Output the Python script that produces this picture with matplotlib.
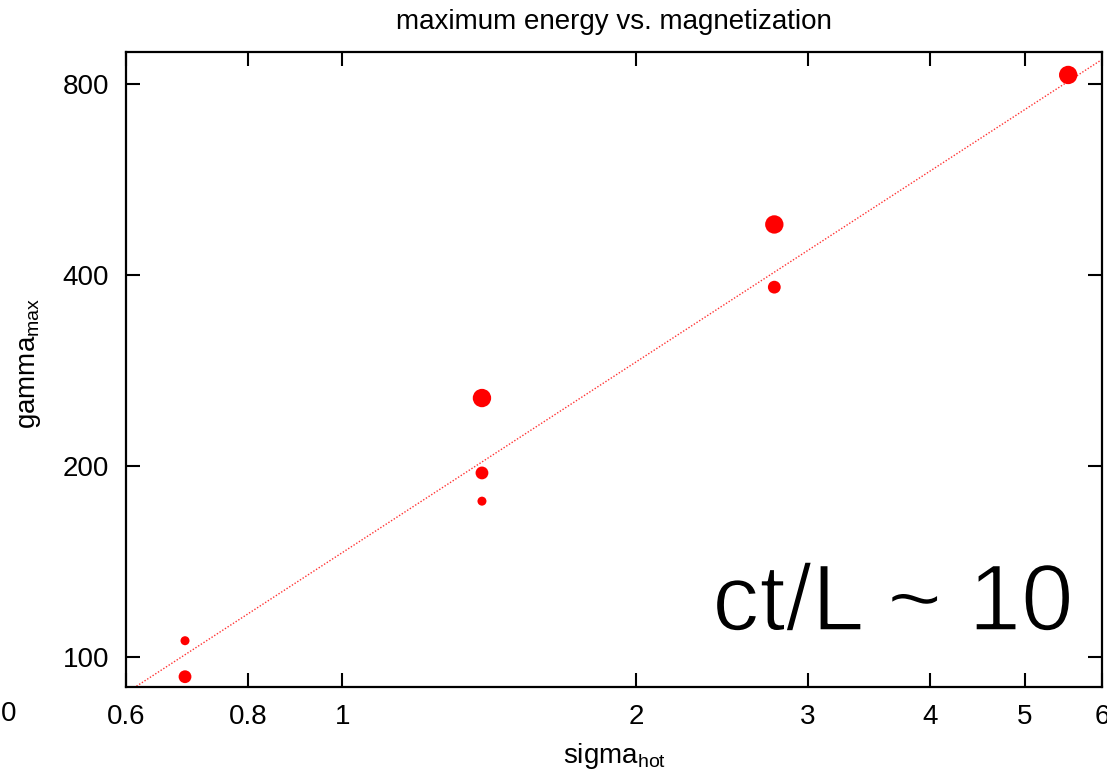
import matplotlib
matplotlib.use('Agg')
import matplotlib.pyplot as plt
import matplotlib.patheffects as pe
import numpy as np

plt.rcParams['font.family'] = ['Liberation Sans', 'DejaVu Sans']

# data
sigma_hot = [0.69, 0.69, 1.39, 1.39, 1.39, 2.77, 2.77, 5.54]
gamma_max = [106, 93, 256, 195, 176, 481, 383, 828]
box_size  = ['small', 'medium', 'large', 'medium', 'small', 'large', 'medium', 'large']

# power-law fit  gamma = coef * sigma^slope
fit_coef  = 146.0
fit_slope = 1.0

x_ticks = [0.6, 0.8, 1, 2, 3, 4, 5, 6]
x_tick_labels = ['0.6', '0.8', '1', '2', '3', '4', '5', '6']
y_ticks = [100, 200, 400, 800]
y_tick_labels = ['100', '200', '400', '800']

marker_area = {'small': 42, 'medium': 85, 'large': 175}

fig = plt.figure(figsize=(11.07, 7.73), dpi=100)
ax = fig.add_axes([0.1136, 0.1109, 0.9955 - 0.1136, 0.9327 - 0.1109])

ax.set_xscale('log')
ax.set_yscale('log')
ax.set_xlim(0.6, 6)
ax.set_ylim(89.5, 900)

xfit = np.array([0.6, 6])
ax.plot(xfit, fit_coef * xfit ** fit_slope, linestyle=(0, (1, 1.3)), color='red',
        linewidth=1.0, alpha=0.8)

ax.scatter(sigma_hot, gamma_max, s=[marker_area[b] for b in box_size],
           color='red', edgecolors='none', zorder=3)

ax.set_xticks(x_ticks)
ax.set_xticklabels(x_tick_labels)
ax.set_yticks(y_ticks)
ax.set_yticklabels(y_tick_labels)
ax.minorticks_off()
ax.tick_params(direction='in', length=10, width=1.5, labelsize=20,
               top=True, right=True, pad=12)

for sp in ax.spines.values():
    sp.set_linewidth(1.6)

# title and axis labels placed in figure coordinates
fig.text(0.5545, 0.9715, 'maximum energy vs. magnetization', fontsize=20,
         ha='center', va='center')
fig.text(0.5555, 0.0129, r'sigma$_{\mathregular{hot}}$', fontsize=20,
         ha='center', va='baseline')
fig.text(0.027, 0.53, r'gamma$_{\mathregular{max}}$', fontsize=20,
         rotation=90, ha='center', va='center')

# big annotation, thinned a little with a white outline on top
ax.text(0.9715, 0.0898, 'ct/L ~ 10', transform=ax.transAxes, ha='right', va='baseline',
        fontsize=68,
        path_effects=[pe.Normal(), pe.Stroke(linewidth=1.4, foreground='white')])

fig.text(0.008, 0.076, '0', fontsize=20, va='center', ha='center')

fig.savefig('out.png', dpi=100)
